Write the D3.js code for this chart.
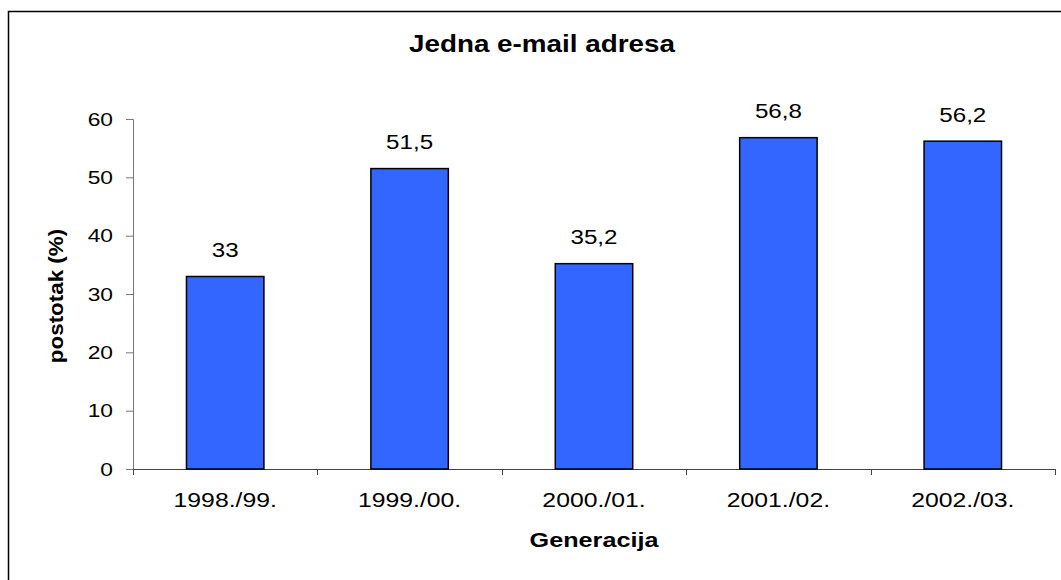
<!DOCTYPE html>
<html>
<head>
<meta charset="utf-8">
<script src="https://cdn.jsdelivr.net/npm/d3@7"></script>
<style>
  body { margin: 0; background: #fff; }
  text { font-family: "Liberation Sans", Arial, sans-serif; fill: #000; }
</style>
</head>
<body>
<script>
var generations = ["1998./99.", "1999./00.", "2000./01.", "2001./02.", "2002./03."];
var percentages = [33, 51.5, 35.2, 56.8, 56.2];
var yTicks = [0, 10, 20, 30, 40, 50, 60];

var box = { width: 1061, height: 580 };
var margin = { left: 133, right: 6, top: 119, bottom: 111 };
const stretch = 1.18   // the source text is a bit wider than plain Arial

var svg = d3.select("body").append("svg")
    .attr("width", box.width)
    .attr("height", box.height)

// outer frame (only top and left edges fall inside the picture)
svg.append("path")
    .attr("d", "M8.5," + box.height + "V11.5H" + box.width)
    .attr("fill", "none")
    .attr("stroke", "#000")
    .attr("stroke-width", 1.5)

let x = d3.scaleBand()
    .domain(generations)
    .range([margin.left, box.width - margin.right])
    .padding(0)

let y = d3.scaleLinear()
    .domain([0, 60])
    .range([box.height - margin.bottom, margin.top])

const barW = x.bandwidth() * 0.42

function label(px, py, txt, size, bold, sx) {
    return svg.append("text")
        .attr("transform", "translate(" + px + "," + py + ") scale(" + sx + ",1)")
        .attr("text-anchor", "middle")
        .style("font-size", size + "px")
        .style("font-weight", bold ? "bold" : "normal")
        .text(txt)
}

label(542, 52, "Jedna e-mail adresa", 24, true, 1.16)

// y axis
let yAxis = svg.append("g")
    .attr("transform", "translate(" + margin.left + ",0)")
    .call(d3.axisLeft(y).tickValues(yTicks).tickSize(7).tickFormat(d3.format("d")))
yAxis.selectAll("path, line").attr("stroke", "#777")
yAxis.selectAll("text")
    .style("font-size", "19px")
    .attr("fill", "#000")
    .attr("x", -20 / 1.2)
    .attr("transform", "scale(1.2,1)")

// x axis
let xAxis = svg.append("g")
    .attr("transform", "translate(0," + y(0) + ")")
    .call(d3.axisBottom(x).tickSize(0))
xAxis.select(".domain").attr("d", "M" + margin.left + ",0.5H" + (box.width - margin.right)).attr("stroke", "#444")
xAxis.selectAll("text")
    .style("font-size", "21px")
    .attr("fill", "#000")
    .attr("y", 38)
    .attr("dy", 0)
    .attr("transform", "scale(" + stretch + ",1)")

// category separators
svg.append("g").selectAll("line")
    .data(d3.range(generations.length + 1))
    .enter().append("line")
    .attr("x1", i => Math.round(margin.left + i * x.step()) + 0.5)
    .attr("x2", i => Math.round(margin.left + i * x.step()) + 0.5)
    .attr("y1", y(0))
    .attr("y2", y(0) + 6)
    .attr("stroke", "#444")

// bars
svg.append("g").selectAll("rect")
    .data(percentages)
    .enter().append("rect")
    .attr("x", (d, i) => x(generations[i]) + (x.bandwidth() - barW) / 2)
    .attr("y", d => y(d))
    .attr("width", barW)
    .attr("height", d => y(0) - y(d))
    .attr("fill", "#3366FF")
    .attr("stroke", "#000")
    .attr("stroke-width", 1.5)

// value labels
svg.append("g").selectAll("text")
    .data(percentages)
    .enter().append("text")
    .attr("transform", (d, i) => "translate(" + (x(generations[i]) + x.bandwidth() / 2) + "," + (y(d) - 19.5) + ") scale(1.15,1)")
    .attr("text-anchor", "middle")
    .style("font-size", "21px")
    .text(d => String(d).replace(".", ","))

label(594, 547, "Generacija", 20, true, 1.26)

svg.append("text")
    .attr("transform", "translate(63,296) rotate(-90) scale(1.12,1)")
    .attr("text-anchor", "middle")
    .style("font-size", "20px")
    .style("font-weight", "bold")
    .text("postotak (%)")
</script>
</body>
</html>
